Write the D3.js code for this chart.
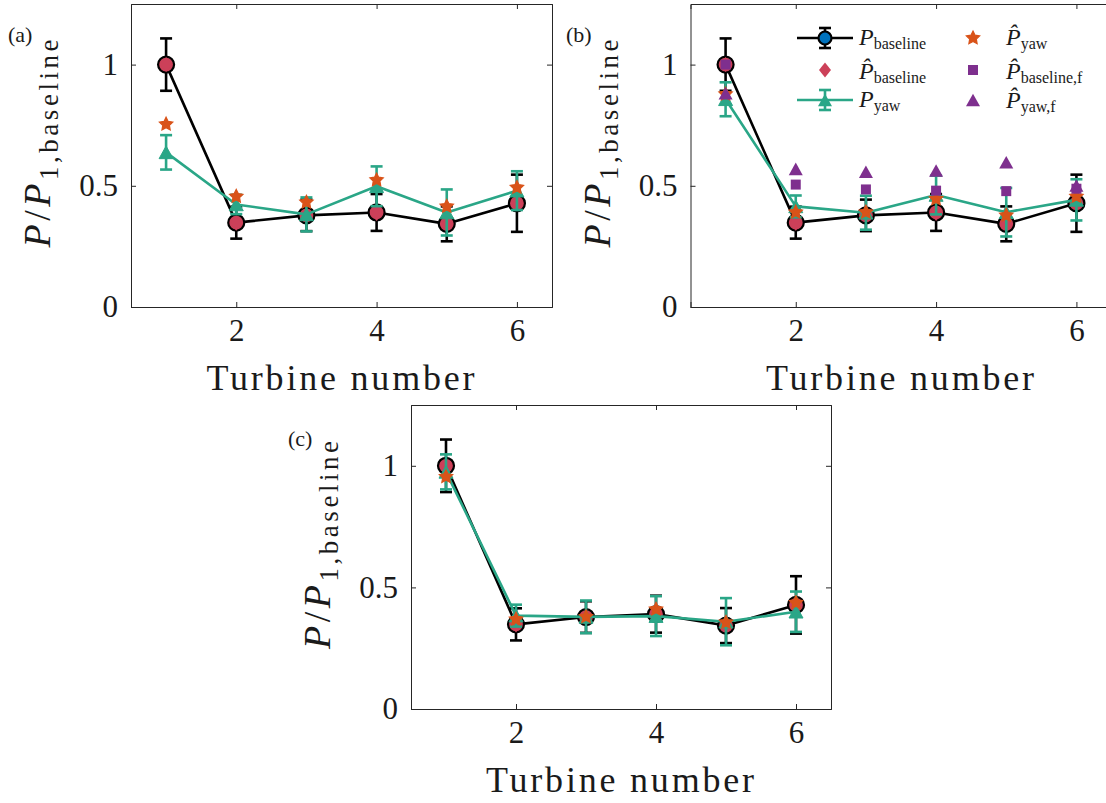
<!DOCTYPE html>
<html><head><meta charset="utf-8">
<script src="https://cdn.jsdelivr.net/npm/d3@7"></script>
<style>
body{margin:0;background:#fff}
svg{display:block}
text{font-family:'Liberation Serif',serif;fill:#1a1a1a}
</style>
</head><body>
<svg id="c" width="1106" height="803"></svg>
<script>
// ---------------- data ----------------
const turbines = [1, 2, 3, 4, 5, 6];
const xTicks = [2, 4, 6];
const yTicks = [0, 0.5, 1];
const yTickLabels = ["0", "0.5", "1"];
const xDomain = [0.5, 6.5];
const yDomain = [0, 1.25];

// measured baseline power (same in all panels)
const pBaseline    = [1.0, 0.348, 0.378, 0.39, 0.343, 0.428];
const pBaselineErr = [0.108, 0.066, 0.065, 0.076, 0.072, 0.118];
const pHatBaseline = [1.0, 0.345, 0.376, 0.386, 0.34, 0.43];

// panel (a)
const pYawA    = [0.638, 0.423, 0.382, 0.498, 0.39, 0.48];
const pYawErrA = [0.071, 0.04, 0.07, 0.082, 0.095, 0.08];
const pHatYawA = [0.754, 0.456, 0.432, 0.524, 0.415, 0.493];

// panel (b)
const pYawB    = [0.857, 0.415, 0.389, 0.462, 0.391, 0.442];
const pYawErrB = [0.07, 0.045, 0.07, 0.08, 0.1, 0.085];
const pHatYawB = [0.878, 0.391, 0.391, 0.446, 0.378, 0.456];
const pHatBaselineF = [1.0, 0.505, 0.485, 0.48, 0.478, 0.488];
const pHatYawF      = [0.882, 0.57, 0.558, 0.563, 0.597, 0.501];

// panel (c)
const pYawC    = [0.975, 0.384, 0.379, 0.382, 0.359, 0.40];
const pYawErrC = [0.072, 0.045, 0.067, 0.082, 0.097, 0.083];
const pHatYawC = [0.955, 0.369, 0.379, 0.41, 0.356, 0.437];

const legendLabels = [
  {hat:false, sub:"baseline"}, {hat:true, sub:"baseline"}, {hat:false, sub:"yaw"},
  {hat:true, sub:"yaw"}, {hat:true, sub:"baseline,f"}, {hat:true, sub:"yaw,f"}
];

// ---------------- style ----------------
const COL = {black:'#000000', red:'#CC4059', green:'#2AA687', orange:'#D95319',
             purple:'#7E2F8E', blue:'#0072BD', axis:'#262626'};

const panels = [
  {name:"(a)", left:131, top:4, w:421, h:303, yaw:pYawA, yawErr:pYawErrA, hatYaw:pHatYawA, filt:false, lab:[8,42]},
  {name:"(b)", left:690.5, top:4, w:421, h:303, yaw:pYawB, yawErr:pYawErrB, hatYaw:pHatYawB, filt:true, lab:[566,42]},
  {name:"(c)", left:411, top:405, w:420, h:304, yaw:pYawC, yawErr:pYawErrC, hatYaw:pHatYawC, filt:false, lab:[288,446]}
];

function marker(kind, s) {
  const p = d3.path();
  if (kind === 'diamond') { const w = s*0.4, h = s/2; p.moveTo(0,-h); p.lineTo(w,0); p.lineTo(0,h); p.lineTo(-w,0); p.closePath(); }
  else if (kind === 'triangle') { const w = s/2, h = s*0.45; p.moveTo(0,-h); p.lineTo(w,h); p.lineTo(-w,h); p.closePath(); }
  else if (kind === 'square') { p.rect(-s/2,-s/2,s,s); }
  else if (kind === 'star') {
    const R = s/2, r = R*0.5;
    for (let i = 0; i < 10; i++) {
      const a = -Math.PI/2 + i*Math.PI/5, rr = i%2 ? r : R;
      const px = rr*Math.cos(a), py = rr*Math.sin(a);
      if (i) p.lineTo(px,py); else p.moveTo(px,py);
    }
    p.closePath();
  }
  else if (kind === 'circle') { p.arc(0,0,s/2,0,2*Math.PI); }
  return p.toString();
}

const svg = d3.select('#c');

function errSeries(g, x, y, vals, errs, color) {
  const pts = turbines.map((t,i) => ({t, v:vals[i], e:errs[i]}));
  g.append('path').datum(pts)
    .attr('d', d3.line().x(d => x(d.t)).y(d => y(d.v)))
    .attr('fill','none').attr('stroke',color).attr('stroke-width',2.6).attr('stroke-linejoin','round');
  const eb = g.append('g').attr('stroke',color).attr('stroke-width',2.6);
  pts.forEach(d => {
    eb.append('line').attr('x1',x(d.t)).attr('x2',x(d.t)).attr('y1',y(d.v-d.e)).attr('y2',y(d.v+d.e));
    [d.v-d.e, d.v+d.e].forEach(v => eb.append('line')
      .attr('x1',x(d.t)-6).attr('x2',x(d.t)+6).attr('y1',y(v)).attr('y2',y(v)));
  });
  return pts;
}

function scatter(g, x, y, vals, kind, size, fill, stroke, sw) {
  g.append('g').selectAll('path').data(turbines.map((t,i) => ({t, v:vals[i]})))
    .join('path')
    .attr('transform', d => `translate(${x(d.t)},${y(d.v)})`)
    .attr('d', marker(kind,size))
    .attr('fill',fill).attr('stroke',stroke||'none').attr('stroke-width',sw||0);
}

panels.forEach(P => {
  const x = d3.scaleLinear().domain(xDomain).range([P.left, P.left+P.w]);
  const y = d3.scaleLinear().domain(yDomain).range([P.top+P.h, P.top]);
  const g = svg.append('g');

  // axes
  const axG = g.append('g');
  axG.append('g').attr('transform',`translate(0,${P.top+P.h})`)
    .call(d3.axisBottom(x).tickValues(xTicks).tickSize(-5).tickPadding(12).tickFormat(d3.format('d')));
  axG.append('g').attr('transform',`translate(0,${P.top})`)
    .call(d3.axisTop(x).tickValues(xTicks).tickSize(-5).tickFormat(''));
  axG.append('g').attr('transform',`translate(${P.left},0)`)
    .call(d3.axisLeft(y).tickValues(yTicks).tickSize(-5).tickPadding(13).tickFormat((d,i) => yTickLabels[i]));
  axG.append('g').attr('transform',`translate(${P.left+P.w},0)`)
    .call(d3.axisRight(y).tickValues(yTicks).tickSize(-5).tickFormat(''));
  axG.selectAll('.domain').attr('stroke',COL.axis).attr('stroke-width',1);
  axG.selectAll('.tick line').attr('stroke',COL.axis).attr('stroke-width',1);
  axG.selectAll('.tick text').attr('font-family',"'Liberation Serif',serif").attr('font-size',31).attr('fill','#1a1a1a');

  // x label
  g.append('text').attr('x', P.left+P.w/2 - 1).attr('y', P.top+P.h+83)
    .attr('text-anchor','middle').attr('font-size',36)
    .attr('textLength',268).attr('lengthAdjust','spacing')
    .text('Turbine number');

  // y label
  const yl = g.append('text')
    .attr('transform',`translate(${P.left-81},${P.top+P.h/2-12}) rotate(-90)`)
    .attr('text-anchor','middle').attr('font-size',38)
    .attr('textLength',208).attr('lengthAdjust','spacing');
  yl.append('tspan').attr('font-style','italic').text('P');
  yl.append('tspan').text('/');
  yl.append('tspan').attr('font-style','italic').text('P');
  yl.append('tspan').attr('font-size',27).attr('dy',8).text('1,baseline');

  // panel label
  g.append('text').attr('x',P.lab[0]).attr('y',P.lab[1]).attr('font-size',22).text(P.name);

  // data
  const dg = g.append('g');
  errSeries(dg, x, y, pBaseline, pBaselineErr, COL.black);
  scatter(dg, x, y, pBaseline, 'circle', 16, COL.red, COL.black, 2.2);
  scatter(dg, x, y, pHatBaseline, 'diamond', 15, COL.red);
  errSeries(dg, x, y, P.yaw, P.yawErr, COL.green);
  scatter(dg, x, y, P.yaw, 'triangle', 14, COL.green, COL.green, 1);
  scatter(dg, x, y, P.hatYaw, 'star', 14, COL.orange, COL.orange, 1.2);
  if (P.filt) {
    scatter(dg, x, y, pHatBaselineF, 'square', 10, COL.purple);
    scatter(dg, x, y, pHatYawF, 'triangle', 14, COL.purple);
  }
});

// ---------------- legend (panel b) ----------------
const lg = svg.append('g');
const rows = [38, 70, 100];
const colMk = [825, 973], colTx = [859, 1006];

function legendText(xp, yp, lab) {
  const t = lg.append('text').attr('x',xp).attr('y',yp).attr('font-size',24);
  t.append('tspan').attr('font-style','italic').text(lab.hat ? 'P\u0302' : 'P');
  t.append('tspan').attr('font-size',16).attr('dy',4).text(lab.sub);
}
function legendErr(cy, color) {
  lg.append('line').attr('x1',797).attr('x2',853).attr('y1',cy).attr('y2',cy).attr('stroke',color).attr('stroke-width',2.6);
  lg.append('line').attr('x1',colMk[0]).attr('x2',colMk[0]).attr('y1',cy-10).attr('y2',cy+10).attr('stroke',color).attr('stroke-width',2.6);
  [cy-10, cy+10].forEach(v => lg.append('line').attr('x1',colMk[0]-6).attr('x2',colMk[0]+6).attr('y1',v).attr('y2',v).attr('stroke',color).attr('stroke-width',2.6));
}
legendErr(rows[0], COL.black);
lg.append('path').attr('transform',`translate(${colMk[0]},${rows[0]})`).attr('d',marker('circle',13)).attr('fill',COL.blue).attr('stroke',COL.black).attr('stroke-width',2.2);
lg.append('path').attr('transform',`translate(${colMk[0]},${rows[1]})`).attr('d',marker('diamond',15)).attr('fill',COL.red);
legendErr(rows[2], COL.green);
lg.append('path').attr('transform',`translate(${colMk[0]},${rows[2]})`).attr('d',marker('triangle',14)).attr('fill',COL.green);
lg.append('path').attr('transform',`translate(${colMk[1]},${rows[0]})`).attr('d',marker('star',14)).attr('fill',COL.orange).attr('stroke',COL.orange).attr('stroke-width',1.2);
lg.append('path').attr('transform',`translate(${colMk[1]},${rows[1]})`).attr('d',marker('square',10)).attr('fill',COL.purple);
lg.append('path').attr('transform',`translate(${colMk[1]},${rows[2]})`).attr('d',marker('triangle',14)).attr('fill',COL.purple);

legendText(colTx[0], rows[0]+7, legendLabels[0]);
legendText(colTx[0], rows[1]+9, legendLabels[1]);
legendText(colTx[0], rows[2]+7, legendLabels[2]);
legendText(colTx[1], rows[0]+7, legendLabels[3]);
legendText(colTx[1], rows[1]+9, legendLabels[4]);
legendText(colTx[1], rows[2]+8, legendLabels[5]);
</script>
</body></html>
